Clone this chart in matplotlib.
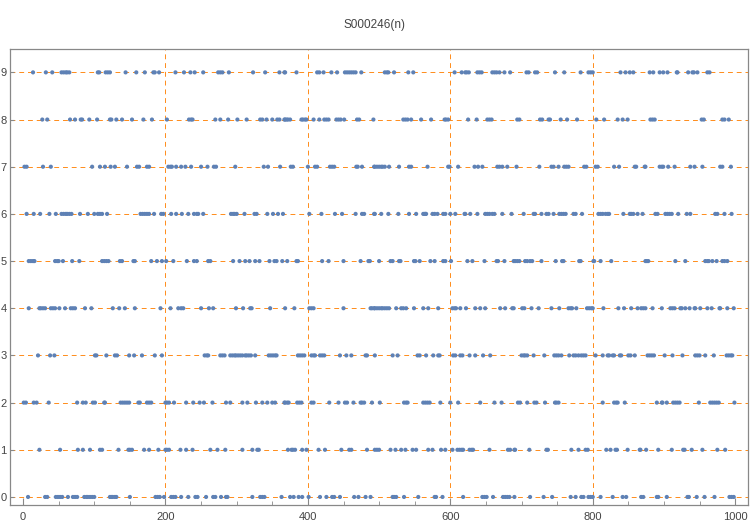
import numpy as np
import matplotlib
matplotlib.use('Agg')
import matplotlib.pyplot as plt

# positions n for each digit value
d0 = [7, 31, 34, 46, 49, 52, 55, 63, 70, 73, 76, 86, 89, 91, 94, 97, 100,
      122, 124, 126, 129, 131, 150, 186, 189, 192, 198, 208, 211, 214, 222, 232,
      242, 245, 257, 267, 270, 278, 285, 287, 322, 333, 336, 339, 363,
      375, 380, 387, 392, 401, 417, 426, 434, 437, 445, 465, 471, 481, 488,
      519, 521, 524, 535, 555, 578, 580, 589, 618,
      645, 648, 651, 660, 674, 677, 680, 683, 690, 712, 731, 743,
      769, 776, 784, 787, 794, 797, 800, 811, 828, 842, 847, 868, 871,
      890, 892, 904, 933, 935, 946, 957, 971, 992, 995, 998]
d1 = [23, 52, 77, 84, 94, 108, 111,
      134, 148, 150, 153, 170, 177, 190, 200, 202, 205, 221, 229, 238,
      263, 273, 284, 308, 322, 329, 331,
      372, 377, 379, 382, 392, 398, 415, 424, 447, 458, 461, 483,
      494, 497, 500, 516, 523, 531, 537, 547, 552, 569, 575, 587, 593, 603, 610, 613, 616, 618,
      627, 630, 632, 655, 681, 684, 690, 691, 711, 735, 737,
      770, 780, 790, 793, 819, 825, 832, 834, 849, 866, 867,
      875, 892, 911, 927, 929, 939, 954, 975, 986]
d2 = [1, 4, 15, 19, 36, 76, 84, 88, 98, 101, 114,
      115, 137, 140, 143, 146, 149, 162, 164, 174, 177, 180, 200, 202, 205, 212, 229, 239,
      248, 254, 266, 285, 291, 308, 315, 327, 336, 343, 350, 354, 367,
      368, 371, 373, 385, 388, 391, 405, 408, 430, 443, 452, 455, 464, 474, 476, 479, 490,
      501, 535, 538, 540, 562, 565, 568, 571, 586, 600, 611,
      642, 662, 672, 695, 698, 708, 718, 721, 733,
      747, 749, 752, 814, 830, 833, 835, 845,
      890, 897, 898, 904, 913, 916, 919, 922, 949, 965, 968, 971, 974, 977, 999]
d3 = [21, 38, 44, 101, 103,
      117, 129, 132, 149, 156, 167, 185, 195,
      255, 258, 260, 277, 280, 283, 291, 294, 297, 299, 302, 305, 308, 312, 314, 317, 320,
      326, 345, 348, 351, 354, 356,
      386, 389, 392, 395, 405, 408, 410, 417, 420, 423, 445, 454, 461, 481, 483,
      494, 519, 526, 554, 557, 566, 576, 583, 585, 604, 607, 614, 617,
      627, 635, 646, 656, 700, 703, 705, 708, 717, 732, 746,
      749, 752, 756, 767, 773, 776, 780, 784, 787, 790, 804, 814, 821, 823, 828, 830,
      838, 840, 850, 853, 859,
      877, 880, 883, 886, 901, 912, 926, 944, 947, 950, 958, 970, 988, 991, 994, 996]
d4 = [8, 23, 25, 28, 31, 39, 42, 45, 51, 59, 67, 70, 73, 87, 96,
      126, 135, 143, 157, 193, 207, 218, 222, 225,
      250, 261, 267, 299, 309, 319, 321, 347,
      368, 381, 402, 405, 408, 450, 488, 490, 493,
      494, 497, 500, 503, 505, 508, 511, 514, 524, 531, 534, 538, 549, 562, 569, 583,
      603, 606, 608, 614,
      622, 635, 642, 649, 670, 677, 687, 689, 701, 704, 714, 724, 742,
      753, 766, 769, 771, 777, 792, 795, 798, 800, 815, 836, 844, 854, 863, 868, 871,
      874, 884, 897, 909, 912, 915, 923, 925, 930, 936, 943, 944, 951, 961, 967, 978,
      979, 989, 998]
d5 = [8, 11, 14, 16, 45, 48, 50, 56, 69, 79, 111, 114,
      117, 120, 136, 139, 155, 157, 180, 188, 195, 201, 211, 230, 240,
      244, 260, 263, 295, 304, 312, 318, 326, 332, 346, 353, 356, 364,
      371, 384, 386, 420, 429, 450, 474, 485, 487,
      500, 516, 519, 528, 530, 549, 551, 557, 572, 578, 590, 593, 601,
      624, 631, 648, 665, 667, 676, 689, 691, 694, 697, 705, 708, 712, 715, 728,
      748, 757, 759, 781, 783, 801, 802, 811, 826,
      874, 876, 878, 916, 930, 958, 961, 963, 968, 974, 982, 985, 989]
d6 = [5, 15, 24, 37, 46, 54, 57, 60, 62, 65, 68, 80, 91, 100, 105, 108, 111,
      118, 165, 168, 171, 174, 177, 184, 194, 197, 208, 215, 223, 232, 240,
      244, 246, 253, 292, 295, 297, 300, 311, 325, 328, 343, 351, 358, 365,
      402, 419, 438, 448, 467, 476, 479, 493,
      494, 503, 513, 527, 542, 552, 562, 564, 565, 566, 575, 578, 582, 590, 593, 600,
      607, 620,
      621, 628, 638, 649, 652, 655, 659, 662, 673, 686, 703, 717, 719, 728, 735, 738, 745,
      753, 756, 759, 762, 773, 776, 785, 808, 811, 814, 818, 821, 823, 843, 852, 854,
      857, 863, 870,
      888, 891, 902, 905, 908, 911, 920, 932, 937, 972, 975, 985, 995]
d7 = [2, 5, 28, 39, 97, 108,
      115, 123, 129, 146, 160, 163, 174, 177, 204, 207, 209, 215, 222, 228, 236,
      250, 259, 268, 271, 298, 338, 344, 361,
      376, 379, 400, 410, 413, 431, 434, 437, 468, 470, 476, 493,
      494, 497, 500, 503, 505, 508, 514, 528, 542, 545, 568, 597, 599, 611,
      634, 639, 645, 666, 669, 673, 680, 693, 725, 742, 745,
      752, 760, 763, 766, 788, 791, 804, 807, 830, 837, 859, 861, 873,
      874, 894, 897, 899, 906, 915, 937, 943, 954, 979, 982, 994]
d8 = [27, 34, 66, 73, 81, 83, 93, 104,
      122, 124, 131, 139, 153, 169, 181, 202, 233, 236, 238,
      270, 277, 288, 301, 314, 333, 336, 342, 350, 357, 360, 367,
      368, 370, 372, 375, 391, 393, 396, 398, 408, 416, 423, 426, 429, 440, 443, 446,
      451, 469, 472, 492,
      534, 537, 540, 545, 559, 573, 592, 594, 597,
      625, 637, 652, 655, 658, 694, 697, 726, 729, 738, 740,
      755, 764, 778, 805, 816, 835, 842, 849,
      881, 884, 887, 953, 956, 982, 985, 991]
d9 = [14, 32, 41, 54, 57, 60, 62, 65, 105, 107,
      116, 119, 122, 144, 159, 171, 183, 185, 191, 214, 226, 235,
      241, 253, 274, 277, 280, 289, 323, 340, 360, 367,
      368, 384, 413, 416, 422, 433, 441, 452, 455, 458, 461, 464, 467, 475,
      508, 511, 513, 521, 541, 548, 606, 616,
      621, 623, 626, 638, 641, 644, 659, 662, 665, 669, 676, 684, 707, 710, 719, 722,
      747, 760, 783, 794, 797, 800, 839, 846, 852, 857,
      880, 885, 894, 899, 905, 918, 919, 934, 940, 942, 947, 961, 964]

digits = [d0, d1, d2, d3, d4, d5, d6, d7, d8, d9]
n = np.concatenate([np.array(d) for d in digits])
val = np.concatenate([np.full(len(d), k) for k, d in enumerate(digits)])

plt.rcParams['font.family'] = ['Liberation Sans', 'DejaVu Sans']
fig = plt.figure(figsize=(7.5, 5.24), dpi=100)
ax = fig.add_axes([0.0127, 0.0363, 0.9846, 0.8697])

orange = '#ff8c1a'
for xv in [200, 400, 600, 800]:
    ax.axvline(xv, color=orange, lw=0.7, ls=(0, (5, 4)), zorder=1)
for yv in range(10):
    ax.axhline(yv, color=orange, lw=0.7, ls=(0, (5, 4)), zorder=1)

ax.scatter(n, val, s=9, color='#5e81b5', edgecolors='none', zorder=3)

ax.set_xlim(-19, 1018)
ax.set_ylim(-0.17, 9.49)
ax.set_xticks([0, 200, 400, 600, 800, 1000])
ax.set_xticks(np.arange(0, 1001, 50), minor=True)
ax.set_yticks(range(10))
ax.tick_params(axis='both', which='both', direction='in', colors='#888888',
               labelcolor='#444444', labelsize=8)
ax.tick_params(axis='x', which='major', length=5, pad=5)
ax.tick_params(axis='x', which='minor', length=3)
ax.tick_params(axis='y', which='major', length=3, pad=2)
for sp in ax.spines.values():
    sp.set_color('#888888')
    sp.set_linewidth(0.9)

fig.text(0.5, 0.952, 'S000246(n)', ha='center', va='center', fontsize=8.5, color='#444444')

fig.savefig('out.png', dpi=100)
